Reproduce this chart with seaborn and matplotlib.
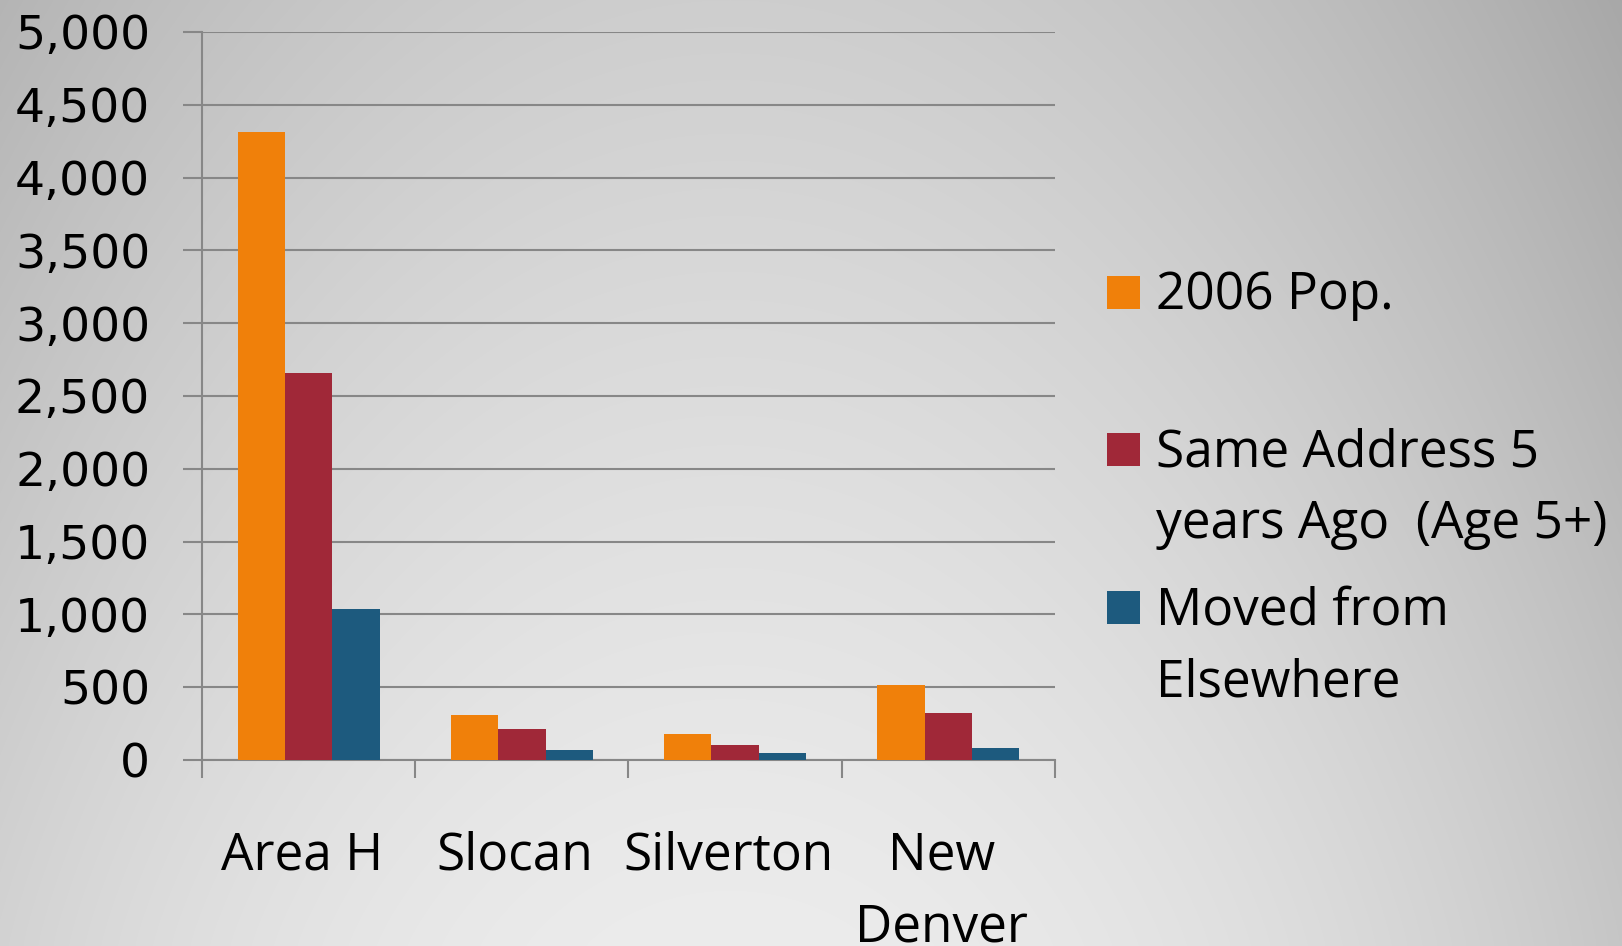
import numpy as np
import pandas as pd
import matplotlib
matplotlib.use("Agg")
import matplotlib.pyplot as plt
from matplotlib.patches import Rectangle
from matplotlib.ticker import FixedLocator, FuncFormatter
from matplotlib.transforms import ScaledTranslation
import seaborn as sns

# ---- data ----
categories = ["Area H", "Slocan", "Silverton", "New\nDenver"]
pop_2006 = [4315, 310, 180, 515]
same_address = [2655, 215, 105, 325]
moved_elsewhere = [1035, 70, 50, 80]
series_names = ["2006 Pop.", "Same Address 5\nyears Ago  (Age 5+)", "Moved from\nElsewhere"]
series_colors = ["#F0800A", "#A02838", "#1D5A7E"]
y_ticks = [0, 500, 1000, 1500, 2000, 2500, 3000, 3500, 4000, 4500, 5000]

rows = []
for name, vals in zip(series_names, [pop_2006, same_address, moved_elsewhere]):
    for cat, v in zip(categories, vals):
        rows.append({"Area": cat, "Series": name, "Value": v})
df = pd.DataFrame(rows)

sns.set_theme(style="white")
plt.rcParams["font.family"] = ["DejaVu Sans"]

W, H = 1622, 946
fig = plt.figure(figsize=(W / 100, H / 100), dpi=100)

# background gradient
yy, xx = np.mgrid[0:H, 0:W]
dx = (xx - 730) / 1000.0
dy = (H - yy) / 946.0
c = 236 - 48 * dx ** 2 - 30 * np.clip(dy, 0, None) ** 1.2
c = np.clip(c, 0, 255) / 255.0
bg = np.dstack([c, c, c])
fig.figimage(bg, xo=0, yo=0, origin="upper", zorder=-10)

ax = fig.add_axes([202 / W, 1 - 760 / H, (1055 - 202) / W, (760 - 32) / H])
ax.set_zorder(1)
ax.set_facecolor("none")
ax.patch.set_alpha(0)

sns.barplot(data=df, x="Area", y="Value", hue="Series", order=categories,
            hue_order=series_names, palette=series_colors, width=0.665,
            gap=0, saturation=1, legend=False, ax=ax, zorder=3,
            linewidth=0, errorbar=None)

grid_c = "#878787"
ax.set_xlim(-0.5, len(categories) - 0.5)
ax.set_ylim(0, 5000)
ax.set_xlabel("")
ax.set_ylabel("")

# y axis
ax.yaxis.set_major_locator(FixedLocator(y_ticks))
ax.yaxis.set_major_formatter(FuncFormatter(lambda v, p: f"{v:,.0f}"))
ax.tick_params(axis="y", which="major", direction="out", length=13.7, width=1.5,
               color=grid_c, pad=23.6, labelsize=34, labelcolor="black", left=True)
ax.yaxis.grid(True, color=grid_c, linewidth=1.5, zorder=1)
ax.xaxis.grid(False)
ax.set_axisbelow(True)

# x axis: boundary ticks + centered labels
ax.xaxis.set_major_locator(FixedLocator([i - 0.5 for i in range(len(categories) + 1)]))
ax.xaxis.set_major_formatter(FuncFormatter(lambda v, p: ""))
ax.xaxis.set_minor_locator(FixedLocator(list(range(len(categories)))))
ax.set_xticklabels(categories, minor=True)
ax.tick_params(axis="x", which="major", direction="out", length=13, width=1.5,
               color=grid_c, bottom=True)
ax.tick_params(axis="x", which="minor", length=0, pad=51, labelsize=37,
               labelcolor="black", bottom=True)
shift = ScaledTranslation(-7 / 100, 0, fig.dpi_scale_trans)
for lbl in ax.get_xticklabels(minor=True):
    lbl.set_fontfamily(["Open Sans", "DejaVu Sans"])
    lbl.set_linespacing(1.53)
    lbl.set_multialignment("center")
    lbl.set_transform(lbl.get_transform() + shift)

for s in ["top", "right"]:
    ax.spines[s].set_visible(False)
for s in ["left", "bottom"]:
    ax.spines[s].set_color(grid_c)
    ax.spines[s].set_linewidth(1.5)

# legend (manual); first-line baselines in pixels from the top
baselines = [309, 466, 624]
line_step = 72
for name, col, b in zip(series_names, series_colors, baselines):
    fig.patches.append(Rectangle((1107 / W, 1 - b / H), 33 / W, 33 / H,
                                 transform=fig.transFigure, facecolor=col,
                                 edgecolor="none", zorder=5))
    n_lines = name.count("\n") + 1
    last_b = b + line_step * (n_lines - 1)
    fig.text(1156 / W, 1 - last_b / H, name, fontsize=37, va="baseline", ha="left",
             family=["Open Sans", "DejaVu Sans"], linespacing=1.53, color="black",
             zorder=5)

fig.savefig("out.png", dpi=100)
